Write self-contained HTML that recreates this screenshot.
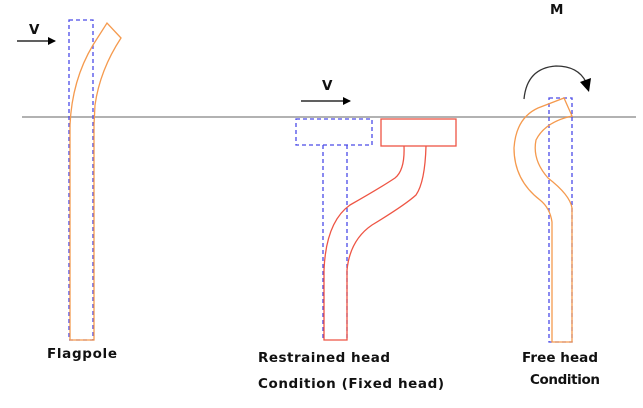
<!DOCTYPE html>
<html><head><style>
html,body{margin:0;padding:0;background:#fff;}
svg{display:block;}
text{font-family:"DejaVu Sans","Liberation Sans",sans-serif;font-weight:bold;font-size:13.5px;fill:#111;}
</style></head><body>
<svg width="643" height="408" viewBox="0 0 643 408" xmlns="http://www.w3.org/2000/svg">
<defs><marker id="ah" markerWidth="8" markerHeight="8" refX="7" refY="4" orient="auto" markerUnits="userSpaceOnUse"><path d="M0,0 L8,4 L0,8 Z" fill="#000"/></marker></defs>
<line x1="22" y1="117" x2="636" y2="117" stroke="#999" stroke-width="1.5"/>
<!-- Flagpole -->
<text x="29" y="34" font-size="14">V</text>
<line x1="17" y1="41" x2="55" y2="41" stroke="#000" stroke-width="1.3" marker-end="url(#ah)"/>
<rect x="69" y="20" width="24" height="320" fill="none" stroke="#4a4ae8" stroke-width="1.3" stroke-dasharray="4,3"/>
<path d="M70,340 L70,125 Q72,80 93,45 L107,23 L121,38 Q100,70 95,105 L94,125 L94,340 Z" fill="none" stroke="#f59a4e" stroke-width="1.3"/>
<text x="47" y="358" textLength="70">Flagpole</text>
<!-- Restrained -->
<text x="322" y="90" font-size="14">V</text>
<line x1="301" y1="101" x2="350" y2="101" stroke="#000" stroke-width="1.3" marker-end="url(#ah)"/>
<rect x="296" y="119" width="76" height="26" fill="none" stroke="#4a4ae8" stroke-width="1.3" stroke-dasharray="4,3"/>
<path d="M323,145 L323,340 M347,145 L347,340" stroke="#4a4ae8" stroke-width="1.3" stroke-dasharray="4,3"/>
<rect x="381" y="119" width="75" height="27" fill="none" stroke="#ee5544" stroke-width="1.3"/>
<path d="M404,146 Q405,170 395,178 Q380,188 350,205 Q326,222 324,270 L324,340 L347,340 L347,270 Q350,240 372,225 Q405,205 416,195 Q425,182 426,146" fill="none" stroke="#ee5544" stroke-width="1.3"/>
<text x="258" y="362" textLength="132">Restrained head</text>
<text x="258" y="388" textLength="186">Condition (Fixed head)</text>
<!-- Free head -->
<text x="550" y="14" font-size="14">M</text>
<path d="M524,99 Q527,68 556,66 Q578,66 586,82" fill="none" stroke="#333" stroke-width="1.3"/>
<path d="M580,82 L591,78 L589,92 Z" fill="#000"/>
<rect x="549" y="98" width="23" height="244" fill="none" stroke="#4a4ae8" stroke-width="1.3" stroke-dasharray="4,3"/>
<path d="M552,342 L552,222 Q550,208 540,200 Q514,180 514,148 Q516,118 538,108 L564,98 L572,116 Q545,122 536,140 Q532,160 548,178 Q570,195 572,208 L572,342 Z" fill="none" stroke="#f59a4e" stroke-width="1.3"/>
<text x="522" y="362" textLength="76">Free head</text>
<text x="530" y="384" textLength="70">Condition</text>
</svg>
</body></html>
